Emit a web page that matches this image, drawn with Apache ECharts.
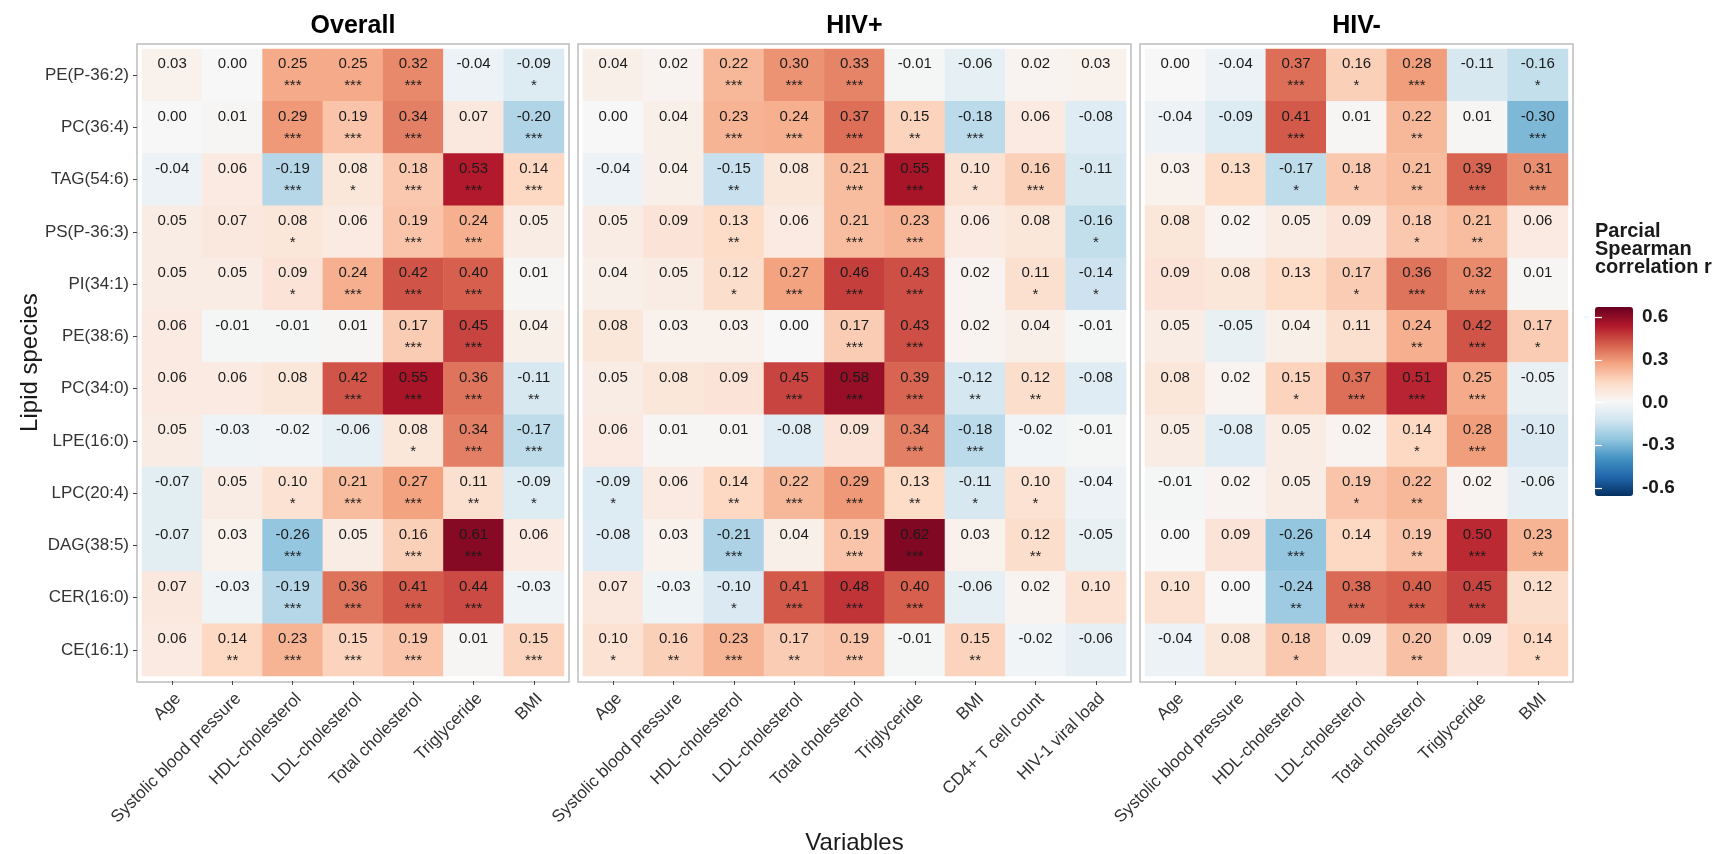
<!DOCTYPE html>
<html><head><meta charset="utf-8">
<script src="https://cdn.jsdelivr.net/npm/echarts@6/dist/echarts.min.js"></script>
<style>html,body{margin:0;padding:0;background:#fff}#c{width:1722px;height:854px}</style>
</head><body><div id="c"></div>
<script>
const lipids = ['PE(P-36:2)','PC(36:4)','TAG(54:6)','PS(P-36:3)','PI(34:1)','PE(38:6)','PC(34:0)','LPE(16:0)','LPC(20:4)','DAG(38:5)','CER(16:0)','CE(16:1)'];
const varsOverall = ['Age','Systolic blood pressure','HDL-cholesterol','LDL-cholesterol','Total cholesterol','Triglyceride','BMI'];
const varsHIVpos = ['Age','Systolic blood pressure','HDL-cholesterol','LDL-cholesterol','Total cholesterol','Triglyceride','BMI','CD4+ T cell count','HIV-1 viral load'];
const varsHIVneg = ['Age','Systolic blood pressure','HDL-cholesterol','LDL-cholesterol','Total cholesterol','Triglyceride','BMI'];
const panelTitles = ['Overall','HIV+','HIV-'];

const rOverall = [
  [0.03,0.00,0.25,0.25,0.32,-0.04,-0.09],
  [0.00,0.01,0.29,0.19,0.34,0.07,-0.20],
  [-0.04,0.06,-0.19,0.08,0.18,0.53,0.14],
  [0.05,0.07,0.08,0.06,0.19,0.24,0.05],
  [0.05,0.05,0.09,0.24,0.42,0.40,0.01],
  [0.06,-0.01,-0.01,0.01,0.17,0.45,0.04],
  [0.06,0.06,0.08,0.42,0.55,0.36,-0.11],
  [0.05,-0.03,-0.02,-0.06,0.08,0.34,-0.17],
  [-0.07,0.05,0.10,0.21,0.27,0.11,-0.09],
  [-0.07,0.03,-0.26,0.05,0.16,0.61,0.06],
  [0.07,-0.03,-0.19,0.36,0.41,0.44,-0.03],
  [0.06,0.14,0.23,0.15,0.19,0.01,0.15]
];
const sigOverall = [
  ['','','***','***','***','','*'],
  ['','','***','***','***','','***'],
  ['','','***','*','***','***','***'],
  ['','','*','','***','***',''],
  ['','','*','***','***','***',''],
  ['','','','','***','***',''],
  ['','','','***','***','***','**'],
  ['','','','','*','***','***'],
  ['','','*','***','***','**','*'],
  ['','','***','','***','***',''],
  ['','','***','***','***','***',''],
  ['','**','***','***','***','','***']
];
const rHIVpos = [
  [0.04,0.02,0.22,0.30,0.33,-0.01,-0.06,0.02,0.03],
  [0.00,0.04,0.23,0.24,0.37,0.15,-0.18,0.06,-0.08],
  [-0.04,0.04,-0.15,0.08,0.21,0.55,0.10,0.16,-0.11],
  [0.05,0.09,0.13,0.06,0.21,0.23,0.06,0.08,-0.16],
  [0.04,0.05,0.12,0.27,0.46,0.43,0.02,0.11,-0.14],
  [0.08,0.03,0.03,0.00,0.17,0.43,0.02,0.04,-0.01],
  [0.05,0.08,0.09,0.45,0.58,0.39,-0.12,0.12,-0.08],
  [0.06,0.01,0.01,-0.08,0.09,0.34,-0.18,-0.02,-0.01],
  [-0.09,0.06,0.14,0.22,0.29,0.13,-0.11,0.10,-0.04],
  [-0.08,0.03,-0.21,0.04,0.19,0.62,0.03,0.12,-0.05],
  [0.07,-0.03,-0.10,0.41,0.48,0.40,-0.06,0.02,0.10],
  [0.10,0.16,0.23,0.17,0.19,-0.01,0.15,-0.02,-0.06]
];
const sigHIVpos = [
  ['','','***','***','***','','','',''],
  ['','','***','***','***','**','***','',''],
  ['','','**','','***','***','*','***',''],
  ['','','**','','***','***','','','*'],
  ['','','*','***','***','***','','*','*'],
  ['','','','','***','***','','',''],
  ['','','','***','***','***','**','**',''],
  ['','','','','','***','***','',''],
  ['*','','**','***','***','**','*','*',''],
  ['','','***','','***','***','','**',''],
  ['','','*','***','***','***','','',''],
  ['*','**','***','**','***','','**','','']
];
const rHIVneg = [
  [0.00,-0.04,0.37,0.16,0.28,-0.11,-0.16],
  [-0.04,-0.09,0.41,0.01,0.22,0.01,-0.30],
  [0.03,0.13,-0.17,0.18,0.21,0.39,0.31],
  [0.08,0.02,0.05,0.09,0.18,0.21,0.06],
  [0.09,0.08,0.13,0.17,0.36,0.32,0.01],
  [0.05,-0.05,0.04,0.11,0.24,0.42,0.17],
  [0.08,0.02,0.15,0.37,0.51,0.25,-0.05],
  [0.05,-0.08,0.05,0.02,0.14,0.28,-0.10],
  [-0.01,0.02,0.05,0.19,0.22,0.02,-0.06],
  [0.00,0.09,-0.26,0.14,0.19,0.50,0.23],
  [0.10,0.00,-0.24,0.38,0.40,0.45,0.12],
  [-0.04,0.08,0.18,0.09,0.20,0.09,0.14]
];
const sigHIVneg = [
  ['','','***','*','***','','*'],
  ['','','***','','**','','***'],
  ['','','*','*','**','***','***'],
  ['','','','','*','**',''],
  ['','','','*','***','***',''],
  ['','','','','**','***','*'],
  ['','','*','***','***','***',''],
  ['','','','','*','***',''],
  ['','','','*','**','',''],
  ['','','***','','**','***','**'],
  ['','','**','***','***','***',''],
  ['','','*','','**','','*']
];
const legendTicks = [-0.6,-0.3,0.0,0.3,0.6];
const legendTitle = 'Parcial\nSpearman\ncorrelation r';
const xTitle = 'Variables';
const yTitle = 'Lipid species';

const FONT = '"Liberation Sans", Arial, Helvetica, sans-serif';
const palette = ['#053061','#2166AC','#4393C3','#92C5DE','#D1E5F0','#F7F7F7','#FDDBC7','#F4A582','#D6604D','#B2182B','#67001F'];

function cells(r, sig){
  const out = [];
  r.forEach((row,i)=>row.forEach((v,j)=>out.push([j,i,v,sig[i][j]])));
  return out;
}

const cellGrids = [
  {left:142, top:49, width:422, height:627, outerBoundsMode:'none', containLabel:false},
  {left:583, top:49, width:543, height:627, outerBoundsMode:'none', containLabel:false},
  {left:1145, top:49, width:423, height:627, outerBoundsMode:'none', containLabel:false}
];
const borderGrids = cellGrids.map(g=>({left:g.left-5, top:g.top-5, width:g.width+10, height:g.height+11, show:true, borderColor:'#bdbdbd', borderWidth:1.5, backgroundColor:'transparent', outerBoundsMode:'none'}));
const legendGrid = {left:1595, top:317, width:38, height:171, outerBoundsMode:'none'};

const varLists = [varsOverall, varsHIVpos, varsHIVneg];

const xAxes = [];
const yAxes = [];
varLists.forEach((vars,k)=>{
  const ax = {
    gridIndex:k, type:'category', data:vars, position:'bottom', offset:5,
    axisLine:{show:false},
    axisTick:{show:true, alignWithLabel:true, length:4, lineStyle:{color:'#444', width:1}},
    axisLabel:{interval:0, rotate:45, align:'right', verticalAlign:'top', margin:9, fontSize:17, color:'#333', fontFamily:FONT},
    splitLine:{show:false}
  };
  if (k===1){
    ax.name = xTitle; ax.nameLocation='middle'; ax.nameGap=150; ax.nameMoveOverlap=false;
    ax.nameTextStyle = {fontSize:24, color:'#1a1a1a', fontFamily:FONT};
  }
  xAxes.push(ax);
  const ay = {
    gridIndex:k, type:'category', data:lipids, inverse:true, offset:5,
    axisLine:{show:false},
    axisTick:{show:k===0, alignWithLabel:true, length:4, lineStyle:{color:'#444', width:1}},
    axisLabel:{show:k===0, fontSize:17, color:'#333', margin:8, fontFamily:FONT},
    splitLine:{show:false}
  };
  if (k===0){
    ay.name = yTitle; ay.nameLocation='middle'; ay.nameGap=95; ay.nameRotate=90; ay.nameMoveOverlap=false;
    ay.nameTextStyle = {fontSize:24, color:'#1a1a1a', fontFamily:FONT};
  }
  yAxes.push(ay);
});
[3,4,5].forEach(k=>{
  xAxes.push({gridIndex:k, type:'value', show:false});
  yAxes.push({gridIndex:k, type:'value', show:false});
});
xAxes.push({gridIndex:6, type:'value', show:false});
yAxes.push({gridIndex:6, type:'value', min:-0.6, max:0.6, interval:0.3, position:'right', z:10,
  axisLine:{show:false}, splitLine:{show:false},
  axisTick:{show:true, inside:true, length:7, lineStyle:{color:'#ffffff', width:1.2}},
  axisLabel:{formatter:v=>v.toFixed(1), fontSize:19, fontWeight:'bold', color:'#1a1a1a', margin:9, fontFamily:FONT}});
yAxes.push({gridIndex:6, type:'value', min:-0.6, max:0.6, interval:0.3, position:'left', z:10,
  axisLine:{show:false}, splitLine:{show:false},
  axisTick:{show:true, inside:true, length:7, lineStyle:{color:'#ffffff', width:1.2}},
  axisLabel:{show:false}});

const labelCfg = {
  show:true,
  formatter:p=>p.data[2].toFixed(2)+'\n'+(p.data[3] ? p.data[3] : '\u00a0'),
  fontSize:15, lineHeight:22, color:'#1a1a1a', fontFamily:FONT
};
const rLists = [rOverall, rHIVpos, rHIVneg];
const sLists = [sigOverall, sigHIVpos, sigHIVneg];
const series = rLists.map((r,k)=>({
  type:'heatmap', xAxisIndex:k, yAxisIndex:k, data:cells(r, sLists[k]),
  label:labelCfg, emphasis:{disabled:true}, itemStyle:{borderWidth:0}, progressive:0, animation:false
}));

const titles = panelTitles.map((t,k)=>({
  text:t, left:cellGrids[k].left + cellGrids[k].width/2, top:14, textAlign:'center', padding:0,
  textStyle:{fontSize:25, fontWeight:'bold', color:'#000', fontFamily:FONT}
}));
titles.push({text:legendTitle, left:1595, top:222, padding:0,
  textStyle:{fontSize:20, fontWeight:'bold', color:'#1a1a1a', lineHeight:18, fontFamily:FONT}});

const chart = echarts.init(document.getElementById('c'), null, {renderer:'canvas'});
chart.setOption({
  backgroundColor:'#ffffff',
  animation:false,
  title:titles,
  grid:[...cellGrids, ...borderGrids, legendGrid],
  xAxis:xAxes,
  yAxis:yAxes,
  visualMap:{
    type:'continuous', min:-0.665, max:0.665, dimension:2, seriesIndex:[0,1,2],
    calculable:false, hoverLink:false, left:1595, top:307, itemWidth:38, itemHeight:189, padding:0,
    inRange:{color:palette}, z:4
  },
  series:series
});
</script></body></html>
